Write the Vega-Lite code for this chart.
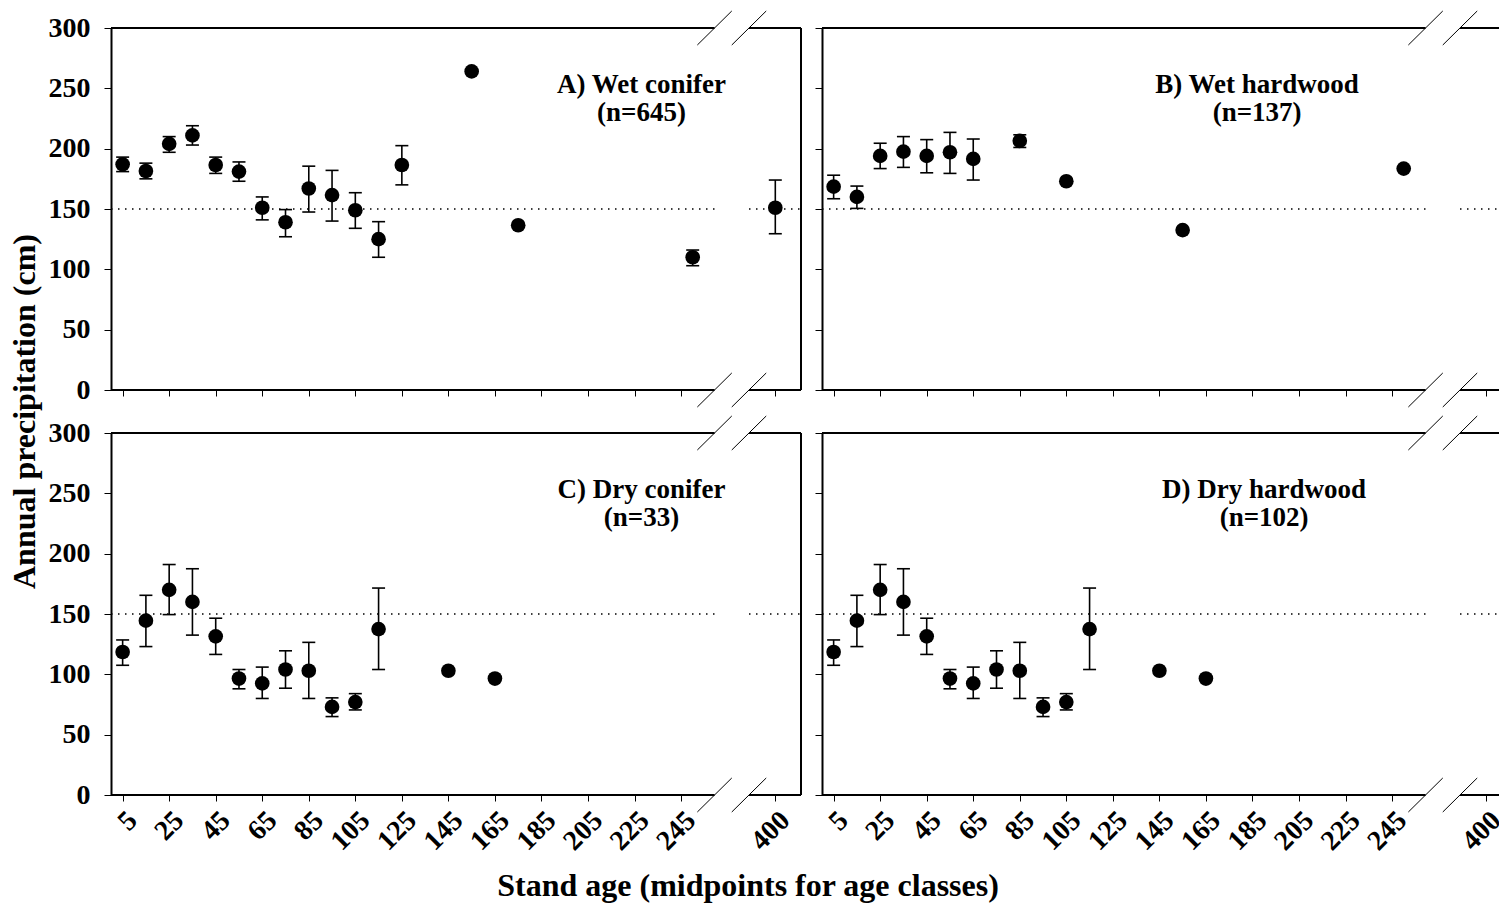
{
  "$schema": "https://vega.github.io/schema/vega-lite/v6.json",
  "padding": {"left": 8, "top": 10, "right": 0, "bottom": 2},
  "config": {"view": {"stroke": null}, "font": "Liberation Serif"},
  "title": {"text": "Stand age (midpoints for age classes)", "orient": "bottom", "anchor": "middle", "font": "Liberation Serif", "fontSize": 32, "fontWeight": "bold", "color": "black", "offset": 16, "dx": -9},
  "datasets": {
    "pts": [
      {"panel": "A", "age": 5, "mean": 187, "lo": 181, "hi": 193},
      {"panel": "A", "age": 15, "mean": 181.5, "lo": 175, "hi": 188},
      {"panel": "A", "age": 25, "mean": 204, "lo": 197, "hi": 210},
      {"panel": "A", "age": 35, "mean": 211, "lo": 203, "hi": 219},
      {"panel": "A", "age": 45, "mean": 186.5, "lo": 179.5, "hi": 193},
      {"panel": "A", "age": 55, "mean": 181, "lo": 173, "hi": 189},
      {"panel": "A", "age": 65, "mean": 151, "lo": 141, "hi": 160},
      {"panel": "A", "age": 75, "mean": 139, "lo": 127, "hi": 149.5},
      {"panel": "A", "age": 85, "mean": 167, "lo": 147.5, "hi": 185.5},
      {"panel": "A", "age": 95, "mean": 161.5, "lo": 140, "hi": 182},
      {"panel": "A", "age": 105, "mean": 149, "lo": 134, "hi": 163.5},
      {"panel": "A", "age": 115, "mean": 125, "lo": 110, "hi": 139.5},
      {"panel": "A", "age": 125, "mean": 186.5, "lo": 170, "hi": 202.5},
      {"panel": "A", "age": 155, "mean": 264, "lo": null, "hi": null},
      {"panel": "A", "age": 175, "mean": 136.5, "lo": null, "hi": null},
      {"panel": "A", "age": 250, "mean": 110, "lo": 103, "hi": 116},
      {"panel": "A", "age": 400, "mean": 151, "lo": 129.5, "hi": 174},
      {"panel": "B", "age": 5, "mean": 168.5, "lo": 158.5, "hi": 178},
      {"panel": "B", "age": 15, "mean": 160, "lo": 150.5, "hi": 169},
      {"panel": "B", "age": 25, "mean": 194, "lo": 183.5, "hi": 204.5},
      {"panel": "B", "age": 35, "mean": 197.5, "lo": 184.5, "hi": 210},
      {"panel": "B", "age": 45, "mean": 194, "lo": 180, "hi": 207.5},
      {"panel": "B", "age": 55, "mean": 197, "lo": 179.5, "hi": 213.5},
      {"panel": "B", "age": 65, "mean": 191.5, "lo": 174, "hi": 208},
      {"panel": "B", "age": 85, "mean": 206.5, "lo": 201, "hi": 211.5},
      {"panel": "B", "age": 105, "mean": 173, "lo": null, "hi": null},
      {"panel": "B", "age": 155, "mean": 132.5, "lo": null, "hi": null},
      {"panel": "B", "age": 250, "mean": 183.5, "lo": null, "hi": null},
      {"panel": "C", "age": 5, "mean": 118.5, "lo": 107.5, "hi": 128.5},
      {"panel": "C", "age": 15, "mean": 144.5, "lo": 123, "hi": 165.5},
      {"panel": "C", "age": 25, "mean": 170, "lo": 149.5, "hi": 191},
      {"panel": "C", "age": 35, "mean": 160, "lo": 132.5, "hi": 187.5},
      {"panel": "C", "age": 45, "mean": 131.5, "lo": 116.5, "hi": 146.5},
      {"panel": "C", "age": 55, "mean": 96.5, "lo": 88, "hi": 104},
      {"panel": "C", "age": 65, "mean": 92.5, "lo": 80, "hi": 106},
      {"panel": "C", "age": 75, "mean": 104, "lo": 88.5, "hi": 119.5},
      {"panel": "C", "age": 85, "mean": 103, "lo": 80, "hi": 126.5},
      {"panel": "C", "age": 95, "mean": 73, "lo": 65, "hi": 80.5},
      {"panel": "C", "age": 105, "mean": 77, "lo": 70.5, "hi": 84},
      {"panel": "C", "age": 115, "mean": 137.5, "lo": 104, "hi": 171.5},
      {"panel": "C", "age": 145, "mean": 103, "lo": null, "hi": null},
      {"panel": "C", "age": 165, "mean": 96.5, "lo": null, "hi": null},
      {"panel": "D", "age": 5, "mean": 118.5, "lo": 107.5, "hi": 128.5},
      {"panel": "D", "age": 15, "mean": 144.5, "lo": 123, "hi": 165.5},
      {"panel": "D", "age": 25, "mean": 170, "lo": 149.5, "hi": 191},
      {"panel": "D", "age": 35, "mean": 160, "lo": 132.5, "hi": 187.5},
      {"panel": "D", "age": 45, "mean": 131.5, "lo": 116.5, "hi": 146.5},
      {"panel": "D", "age": 55, "mean": 96.5, "lo": 88, "hi": 104},
      {"panel": "D", "age": 65, "mean": 92.5, "lo": 80, "hi": 106},
      {"panel": "D", "age": 75, "mean": 104, "lo": 88.5, "hi": 119.5},
      {"panel": "D", "age": 85, "mean": 103, "lo": 80, "hi": 126.5},
      {"panel": "D", "age": 95, "mean": 73, "lo": 65, "hi": 80.5},
      {"panel": "D", "age": 105, "mean": 77, "lo": 70.5, "hi": 84},
      {"panel": "D", "age": 115, "mean": 137.5, "lo": 104, "hi": 171.5},
      {"panel": "D", "age": 145, "mean": 103, "lo": null, "hi": null},
      {"panel": "D", "age": 165, "mean": 96.5, "lo": null, "hi": null}
    ]
  },
  "resolve": {"scale": {"x": "independent", "y": "independent"}},
  "spacing": 12,
  "hconcat": [
    {
      "vconcat": [
        {
          "width": 690, "height": 362,
          "layer": [
            {"data": {"name": "pts"}, "transform": [{"filter": "datum.panel == 'A'"}],
             "mark": {"type": "circle", "size": 215, "color": "black", "opacity": 1},
             "encoding": {
               "x": {"field": "age", "type": "quantitative", "scale": {"type": "linear", "domain": [0, 284, 400, 411.3], "range": [0, 660.8, 664.3, 690], "nice": false, "zero": false},
                     "axis": {"values": [5,15,25,35,45,55,65,75,85,95,105,115,125,135,145,155,165,175,185,195,205,215,225,235,245,255,400], "labels": false, "domain": false, "ticks": true, "tickSize": 6, "tickColor": "black", "tickWidth": 1, "grid": false, "title": null}},
               "y": {"field": "mean", "type": "quantitative", "scale": {"domain": [0, 300], "nice": false, "zero": false},
                     "axis": {"values": [0,50,100,150,200,250,300], "domain": true, "domainColor": "black", "domainWidth": 2, "ticks": true, "tickSize": 7, "tickColor": "black", "tickWidth": 1, "labels": true, "labelFont": "Liberation Serif", "labelFontSize": 28, "labelFontWeight": "bold", "labelColor": "black", "labelPadding": 14, "grid": false,
                              "title": "Annual precipitation (cm)", "titleY": 383, "titleFont": "Liberation Serif", "titleFontSize": 32, "titleFontWeight": "bold", "titleColor": "black", "titlePadding": 7}}
             }},
            {"data": {"name": "pts"}, "transform": [{"filter": "datum.panel == 'A'"}],
             "mark": {"type": "rule", "color": "black", "strokeWidth": 1.6},
             "encoding": {"x": {"field": "age", "type": "quantitative"}, "y": {"field": "lo", "type": "quantitative"}, "y2": {"field": "hi"}}},
            {"data": {"name": "pts"}, "transform": [{"filter": "datum.panel == 'A'"}],
             "mark": {"type": "tick", "orient": "horizontal", "size": 13, "thickness": 1.6, "color": "black", "opacity": 1},
             "encoding": {"x": {"field": "age", "type": "quantitative"}, "y": {"field": "lo", "type": "quantitative"}}},
            {"data": {"name": "pts"}, "transform": [{"filter": "datum.panel == 'A'"}],
             "mark": {"type": "tick", "orient": "horizontal", "size": 13, "thickness": 1.6, "color": "black", "opacity": 1},
             "encoding": {"x": {"field": "age", "type": "quantitative"}, "y": {"field": "hi", "type": "quantitative"}}},
            {"data": {"values": [{}]}, "mark": {"type": "rule", "color": "black", "strokeWidth": 1.5, "strokeDash": [1.5, 5.5]},
             "encoding": {"x": {"datum": 0, "type": "quantitative"}, "x2": {"datum": 259.4}, "y": {"datum": 150, "type": "quantitative"}}},
            {"data": {"values": [{}]}, "mark": {"type": "rule", "color": "black", "strokeWidth": 1.5, "strokeDash": [1.5, 5.5]},
             "encoding": {"x": {"datum": 274.2, "type": "quantitative"}, "x2": {"datum": 411.3}, "y": {"datum": 150, "type": "quantitative"}}},
            {"data": {"values": [{}]}, "mark": {"type": "rule", "color": "black", "strokeWidth": 2},
             "encoding": {"x": {"datum": 0, "type": "quantitative"}, "x2": {"datum": 259.4}, "y": {"datum": 0, "type": "quantitative"}}},
            {"data": {"values": [{}]}, "mark": {"type": "rule", "color": "black", "strokeWidth": 2},
             "encoding": {"x": {"datum": 274.2, "type": "quantitative"}, "x2": {"datum": 411.3}, "y": {"datum": 0, "type": "quantitative"}}},
            {"data": {"values": [{}]}, "mark": {"type": "rule", "color": "black", "strokeWidth": 2},
             "encoding": {"x": {"datum": 0, "type": "quantitative"}, "x2": {"datum": 259.4}, "y": {"datum": 300, "type": "quantitative"}}},
            {"data": {"values": [{}]}, "mark": {"type": "rule", "color": "black", "strokeWidth": 2},
             "encoding": {"x": {"datum": 274.2, "type": "quantitative"}, "x2": {"datum": 411.3}, "y": {"datum": 300, "type": "quantitative"}}},
            {"data": {"values": [{}]}, "mark": {"type": "rule", "color": "black", "strokeWidth": 2},
             "encoding": {"x": {"datum": 411.3, "type": "quantitative"}, "y": {"datum": 0, "type": "quantitative"}, "y2": {"datum": 300}}},
            {"data": {"values": [{}]}, "mark": {"type": "rule", "color": "black", "strokeWidth": 1},
             "encoding": {"x": {"datum": 252.0, "type": "quantitative"}, "x2": {"datum": 266.8}, "y": {"datum": -14.1, "type": "quantitative"}, "y2": {"datum": 14.1}}},
            {"data": {"values": [{}]}, "mark": {"type": "rule", "color": "black", "strokeWidth": 1},
             "encoding": {"x": {"datum": 266.8, "type": "quantitative"}, "x2": {"datum": 281.6}, "y": {"datum": -14.1, "type": "quantitative"}, "y2": {"datum": 14.1}}},
            {"data": {"values": [{}]}, "mark": {"type": "rule", "color": "black", "strokeWidth": 1},
             "encoding": {"x": {"datum": 252.0, "type": "quantitative"}, "x2": {"datum": 266.8}, "y": {"datum": 285.9, "type": "quantitative"}, "y2": {"datum": 314.1}}},
            {"data": {"values": [{}]}, "mark": {"type": "rule", "color": "black", "strokeWidth": 1},
             "encoding": {"x": {"datum": 266.8, "type": "quantitative"}, "x2": {"datum": 281.6}, "y": {"datum": 285.9, "type": "quantitative"}, "y2": {"datum": 314.1}}},
            {"data": {"values": [{}]}, "mark": {"type": "text", "text": ["A) Wet conifer", "(n=645)"], "font": "Liberation Serif", "fontSize": 27, "fontWeight": "bold", "color": "black", "align": "center", "baseline": "alphabetic", "lineHeight": 28},
             "encoding": {"x": {"datum": 228, "type": "quantitative"}, "y": {"datum": 246.5, "type": "quantitative"}}}
          ]
        },
        {
          "width": 690, "height": 362,
          "layer": [
            {"data": {"name": "pts"}, "transform": [{"filter": "datum.panel == 'C'"}],
             "mark": {"type": "circle", "size": 215, "color": "black", "opacity": 1},
             "encoding": {
               "x": {"field": "age", "type": "quantitative", "scale": {"type": "linear", "domain": [0, 284, 400, 411.3], "range": [0, 660.8, 664.3, 690], "nice": false, "zero": false},
                     "axis": {"values": [5,15,25,35,45,55,65,75,85,95,105,115,125,135,145,155,165,175,185,195,205,215,225,235,245,255,400], "labels": true, "labelExpr": "(datum.value == 400 || (datum.value <= 245 && (datum.value - 5) % 20 == 0)) ? datum.label : ''", "labelAngle": -45, "labelFont": "Liberation Serif", "labelFontSize": 28, "labelFontWeight": "bold", "labelColor": "black", "labelPadding": 5, "labelOverlap": false, "labelFlush": false, "labelBound": false, "domain": false, "ticks": true, "tickSize": 6, "tickColor": "black", "tickWidth": 1, "grid": false, "title": null}},
               "y": {"field": "mean", "type": "quantitative", "scale": {"domain": [0, 300], "nice": false, "zero": false},
                     "axis": {"values": [0,50,100,150,200,250,300], "domain": true, "domainColor": "black", "domainWidth": 2, "ticks": true, "tickSize": 7, "tickColor": "black", "tickWidth": 1, "labels": true, "labelFont": "Liberation Serif", "labelFontSize": 28, "labelFontWeight": "bold", "labelColor": "black", "labelPadding": 14, "grid": false, "title": null}}
             }},
            {"data": {"name": "pts"}, "transform": [{"filter": "datum.panel == 'C'"}],
             "mark": {"type": "rule", "color": "black", "strokeWidth": 1.6},
             "encoding": {"x": {"field": "age", "type": "quantitative"}, "y": {"field": "lo", "type": "quantitative"}, "y2": {"field": "hi"}}},
            {"data": {"name": "pts"}, "transform": [{"filter": "datum.panel == 'C'"}],
             "mark": {"type": "tick", "orient": "horizontal", "size": 13, "thickness": 1.6, "color": "black", "opacity": 1},
             "encoding": {"x": {"field": "age", "type": "quantitative"}, "y": {"field": "lo", "type": "quantitative"}}},
            {"data": {"name": "pts"}, "transform": [{"filter": "datum.panel == 'C'"}],
             "mark": {"type": "tick", "orient": "horizontal", "size": 13, "thickness": 1.6, "color": "black", "opacity": 1},
             "encoding": {"x": {"field": "age", "type": "quantitative"}, "y": {"field": "hi", "type": "quantitative"}}},
            {"data": {"values": [{}]}, "mark": {"type": "rule", "color": "black", "strokeWidth": 1.5, "strokeDash": [1.5, 5.5]},
             "encoding": {"x": {"datum": 0, "type": "quantitative"}, "x2": {"datum": 259.4}, "y": {"datum": 150, "type": "quantitative"}}},
            {"data": {"values": [{}]}, "mark": {"type": "rule", "color": "black", "strokeWidth": 1.5, "strokeDash": [1.5, 5.5]},
             "encoding": {"x": {"datum": 274.2, "type": "quantitative"}, "x2": {"datum": 411.3}, "y": {"datum": 150, "type": "quantitative"}}},
            {"data": {"values": [{}]}, "mark": {"type": "rule", "color": "black", "strokeWidth": 2},
             "encoding": {"x": {"datum": 0, "type": "quantitative"}, "x2": {"datum": 259.4}, "y": {"datum": 0, "type": "quantitative"}}},
            {"data": {"values": [{}]}, "mark": {"type": "rule", "color": "black", "strokeWidth": 2},
             "encoding": {"x": {"datum": 274.2, "type": "quantitative"}, "x2": {"datum": 411.3}, "y": {"datum": 0, "type": "quantitative"}}},
            {"data": {"values": [{}]}, "mark": {"type": "rule", "color": "black", "strokeWidth": 2},
             "encoding": {"x": {"datum": 0, "type": "quantitative"}, "x2": {"datum": 259.4}, "y": {"datum": 300, "type": "quantitative"}}},
            {"data": {"values": [{}]}, "mark": {"type": "rule", "color": "black", "strokeWidth": 2},
             "encoding": {"x": {"datum": 274.2, "type": "quantitative"}, "x2": {"datum": 411.3}, "y": {"datum": 300, "type": "quantitative"}}},
            {"data": {"values": [{}]}, "mark": {"type": "rule", "color": "black", "strokeWidth": 2},
             "encoding": {"x": {"datum": 411.3, "type": "quantitative"}, "y": {"datum": 0, "type": "quantitative"}, "y2": {"datum": 300}}},
            {"data": {"values": [{}]}, "mark": {"type": "rule", "color": "black", "strokeWidth": 1},
             "encoding": {"x": {"datum": 252.0, "type": "quantitative"}, "x2": {"datum": 266.8}, "y": {"datum": -14.1, "type": "quantitative"}, "y2": {"datum": 14.1}}},
            {"data": {"values": [{}]}, "mark": {"type": "rule", "color": "black", "strokeWidth": 1},
             "encoding": {"x": {"datum": 266.8, "type": "quantitative"}, "x2": {"datum": 281.6}, "y": {"datum": -14.1, "type": "quantitative"}, "y2": {"datum": 14.1}}},
            {"data": {"values": [{}]}, "mark": {"type": "rule", "color": "black", "strokeWidth": 1},
             "encoding": {"x": {"datum": 252.0, "type": "quantitative"}, "x2": {"datum": 266.8}, "y": {"datum": 285.9, "type": "quantitative"}, "y2": {"datum": 314.1}}},
            {"data": {"values": [{}]}, "mark": {"type": "rule", "color": "black", "strokeWidth": 1},
             "encoding": {"x": {"datum": 266.8, "type": "quantitative"}, "x2": {"datum": 281.6}, "y": {"datum": 285.9, "type": "quantitative"}, "y2": {"datum": 314.1}}},
            {"data": {"values": [{}]}, "mark": {"type": "text", "text": ["C) Dry conifer", "(n=33)"], "font": "Liberation Serif", "fontSize": 27, "fontWeight": "bold", "color": "black", "align": "center", "baseline": "alphabetic", "lineHeight": 28},
             "encoding": {"x": {"datum": 228, "type": "quantitative"}, "y": {"datum": 246.5, "type": "quantitative"}}}
          ]
        }
      ],
      "spacing": 43,
      "bounds": "flush",
      "resolve": {"scale": {"x": "independent", "y": "independent"}}
    },
    {
      "vconcat": [
        {
          "width": 677, "height": 362,
          "layer": [
            {"data": {"name": "pts"}, "transform": [{"filter": "datum.panel == 'B'"}],
             "mark": {"type": "circle", "size": 215, "color": "black", "opacity": 1},
             "encoding": {
               "x": {"field": "age", "type": "quantitative", "scale": {"type": "linear", "domain": [0, 284, 400, 405.5], "range": [0, 660.8, 664.3, 677], "nice": false, "zero": false},
                     "axis": {"values": [5,15,25,35,45,55,65,75,85,95,105,115,125,135,145,155,165,175,185,195,205,215,225,235,245,255,400], "labels": false, "domain": false, "ticks": true, "tickSize": 6, "tickColor": "black", "tickWidth": 1, "grid": false, "title": null}},
               "y": {"field": "mean", "type": "quantitative", "scale": {"domain": [0, 300], "nice": false, "zero": false},
                     "axis": {"values": [0,50,100,150,200,250,300], "domain": true, "domainColor": "black", "domainWidth": 2, "ticks": true, "tickSize": 7, "tickColor": "black", "tickWidth": 1, "labels": false, "grid": false, "title": null}}
             }},
            {"data": {"name": "pts"}, "transform": [{"filter": "datum.panel == 'B'"}],
             "mark": {"type": "rule", "color": "black", "strokeWidth": 1.6},
             "encoding": {"x": {"field": "age", "type": "quantitative"}, "y": {"field": "lo", "type": "quantitative"}, "y2": {"field": "hi"}}},
            {"data": {"name": "pts"}, "transform": [{"filter": "datum.panel == 'B'"}],
             "mark": {"type": "tick", "orient": "horizontal", "size": 13, "thickness": 1.6, "color": "black", "opacity": 1},
             "encoding": {"x": {"field": "age", "type": "quantitative"}, "y": {"field": "lo", "type": "quantitative"}}},
            {"data": {"name": "pts"}, "transform": [{"filter": "datum.panel == 'B'"}],
             "mark": {"type": "tick", "orient": "horizontal", "size": 13, "thickness": 1.6, "color": "black", "opacity": 1},
             "encoding": {"x": {"field": "age", "type": "quantitative"}, "y": {"field": "hi", "type": "quantitative"}}},
            {"data": {"values": [{}]}, "mark": {"type": "rule", "color": "black", "strokeWidth": 1.5, "strokeDash": [1.5, 5.5]},
             "encoding": {"x": {"datum": 0, "type": "quantitative"}, "x2": {"datum": 259.4}, "y": {"datum": 150, "type": "quantitative"}}},
            {"data": {"values": [{}]}, "mark": {"type": "rule", "color": "black", "strokeWidth": 1.5, "strokeDash": [1.5, 5.5]},
             "encoding": {"x": {"datum": 274.2, "type": "quantitative"}, "x2": {"datum": 405.5}, "y": {"datum": 150, "type": "quantitative"}}},
            {"data": {"values": [{}]}, "mark": {"type": "rule", "color": "black", "strokeWidth": 2},
             "encoding": {"x": {"datum": 0, "type": "quantitative"}, "x2": {"datum": 259.4}, "y": {"datum": 0, "type": "quantitative"}}},
            {"data": {"values": [{}]}, "mark": {"type": "rule", "color": "black", "strokeWidth": 2},
             "encoding": {"x": {"datum": 274.2, "type": "quantitative"}, "x2": {"datum": 405.5}, "y": {"datum": 0, "type": "quantitative"}}},
            {"data": {"values": [{}]}, "mark": {"type": "rule", "color": "black", "strokeWidth": 2},
             "encoding": {"x": {"datum": 0, "type": "quantitative"}, "x2": {"datum": 259.4}, "y": {"datum": 300, "type": "quantitative"}}},
            {"data": {"values": [{}]}, "mark": {"type": "rule", "color": "black", "strokeWidth": 2},
             "encoding": {"x": {"datum": 274.2, "type": "quantitative"}, "x2": {"datum": 405.5}, "y": {"datum": 300, "type": "quantitative"}}},
            {"data": {"values": [{}]}, "mark": {"type": "rule", "color": "black", "strokeWidth": 1},
             "encoding": {"x": {"datum": 252.0, "type": "quantitative"}, "x2": {"datum": 266.8}, "y": {"datum": -14.1, "type": "quantitative"}, "y2": {"datum": 14.1}}},
            {"data": {"values": [{}]}, "mark": {"type": "rule", "color": "black", "strokeWidth": 1},
             "encoding": {"x": {"datum": 266.8, "type": "quantitative"}, "x2": {"datum": 281.6}, "y": {"datum": -14.1, "type": "quantitative"}, "y2": {"datum": 14.1}}},
            {"data": {"values": [{}]}, "mark": {"type": "rule", "color": "black", "strokeWidth": 1},
             "encoding": {"x": {"datum": 252.0, "type": "quantitative"}, "x2": {"datum": 266.8}, "y": {"datum": 285.9, "type": "quantitative"}, "y2": {"datum": 314.1}}},
            {"data": {"values": [{}]}, "mark": {"type": "rule", "color": "black", "strokeWidth": 1},
             "encoding": {"x": {"datum": 266.8, "type": "quantitative"}, "x2": {"datum": 281.6}, "y": {"datum": 285.9, "type": "quantitative"}, "y2": {"datum": 314.1}}},
            {"data": {"values": [{}]}, "mark": {"type": "text", "text": ["B) Wet hardwood", "(n=137)"], "font": "Liberation Serif", "fontSize": 27, "fontWeight": "bold", "color": "black", "align": "center", "baseline": "alphabetic", "lineHeight": 28},
             "encoding": {"x": {"datum": 187, "type": "quantitative"}, "y": {"datum": 246.5, "type": "quantitative"}}}
          ]
        },
        {
          "width": 677, "height": 362,
          "layer": [
            {"data": {"name": "pts"}, "transform": [{"filter": "datum.panel == 'D'"}],
             "mark": {"type": "circle", "size": 215, "color": "black", "opacity": 1},
             "encoding": {
               "x": {"field": "age", "type": "quantitative", "scale": {"type": "linear", "domain": [0, 284, 400, 405.5], "range": [0, 660.8, 664.3, 677], "nice": false, "zero": false},
                     "axis": {"values": [5,15,25,35,45,55,65,75,85,95,105,115,125,135,145,155,165,175,185,195,205,215,225,235,245,255,400], "labels": true, "labelExpr": "(datum.value == 400 || (datum.value <= 245 && (datum.value - 5) % 20 == 0)) ? datum.label : ''", "labelAngle": -45, "labelFont": "Liberation Serif", "labelFontSize": 28, "labelFontWeight": "bold", "labelColor": "black", "labelPadding": 5, "labelOverlap": false, "labelFlush": false, "labelBound": false, "domain": false, "ticks": true, "tickSize": 6, "tickColor": "black", "tickWidth": 1, "grid": false, "title": null}},
               "y": {"field": "mean", "type": "quantitative", "scale": {"domain": [0, 300], "nice": false, "zero": false},
                     "axis": {"values": [0,50,100,150,200,250,300], "domain": true, "domainColor": "black", "domainWidth": 2, "ticks": true, "tickSize": 7, "tickColor": "black", "tickWidth": 1, "labels": false, "grid": false, "title": null}}
             }},
            {"data": {"name": "pts"}, "transform": [{"filter": "datum.panel == 'D'"}],
             "mark": {"type": "rule", "color": "black", "strokeWidth": 1.6},
             "encoding": {"x": {"field": "age", "type": "quantitative"}, "y": {"field": "lo", "type": "quantitative"}, "y2": {"field": "hi"}}},
            {"data": {"name": "pts"}, "transform": [{"filter": "datum.panel == 'D'"}],
             "mark": {"type": "tick", "orient": "horizontal", "size": 13, "thickness": 1.6, "color": "black", "opacity": 1},
             "encoding": {"x": {"field": "age", "type": "quantitative"}, "y": {"field": "lo", "type": "quantitative"}}},
            {"data": {"name": "pts"}, "transform": [{"filter": "datum.panel == 'D'"}],
             "mark": {"type": "tick", "orient": "horizontal", "size": 13, "thickness": 1.6, "color": "black", "opacity": 1},
             "encoding": {"x": {"field": "age", "type": "quantitative"}, "y": {"field": "hi", "type": "quantitative"}}},
            {"data": {"values": [{}]}, "mark": {"type": "rule", "color": "black", "strokeWidth": 1.5, "strokeDash": [1.5, 5.5]},
             "encoding": {"x": {"datum": 0, "type": "quantitative"}, "x2": {"datum": 259.4}, "y": {"datum": 150, "type": "quantitative"}}},
            {"data": {"values": [{}]}, "mark": {"type": "rule", "color": "black", "strokeWidth": 1.5, "strokeDash": [1.5, 5.5]},
             "encoding": {"x": {"datum": 274.2, "type": "quantitative"}, "x2": {"datum": 405.5}, "y": {"datum": 150, "type": "quantitative"}}},
            {"data": {"values": [{}]}, "mark": {"type": "rule", "color": "black", "strokeWidth": 2},
             "encoding": {"x": {"datum": 0, "type": "quantitative"}, "x2": {"datum": 259.4}, "y": {"datum": 0, "type": "quantitative"}}},
            {"data": {"values": [{}]}, "mark": {"type": "rule", "color": "black", "strokeWidth": 2},
             "encoding": {"x": {"datum": 274.2, "type": "quantitative"}, "x2": {"datum": 405.5}, "y": {"datum": 0, "type": "quantitative"}}},
            {"data": {"values": [{}]}, "mark": {"type": "rule", "color": "black", "strokeWidth": 2},
             "encoding": {"x": {"datum": 0, "type": "quantitative"}, "x2": {"datum": 259.4}, "y": {"datum": 300, "type": "quantitative"}}},
            {"data": {"values": [{}]}, "mark": {"type": "rule", "color": "black", "strokeWidth": 2},
             "encoding": {"x": {"datum": 274.2, "type": "quantitative"}, "x2": {"datum": 405.5}, "y": {"datum": 300, "type": "quantitative"}}},
            {"data": {"values": [{}]}, "mark": {"type": "rule", "color": "black", "strokeWidth": 1},
             "encoding": {"x": {"datum": 252.0, "type": "quantitative"}, "x2": {"datum": 266.8}, "y": {"datum": -14.1, "type": "quantitative"}, "y2": {"datum": 14.1}}},
            {"data": {"values": [{}]}, "mark": {"type": "rule", "color": "black", "strokeWidth": 1},
             "encoding": {"x": {"datum": 266.8, "type": "quantitative"}, "x2": {"datum": 281.6}, "y": {"datum": -14.1, "type": "quantitative"}, "y2": {"datum": 14.1}}},
            {"data": {"values": [{}]}, "mark": {"type": "rule", "color": "black", "strokeWidth": 1},
             "encoding": {"x": {"datum": 252.0, "type": "quantitative"}, "x2": {"datum": 266.8}, "y": {"datum": 285.9, "type": "quantitative"}, "y2": {"datum": 314.1}}},
            {"data": {"values": [{}]}, "mark": {"type": "rule", "color": "black", "strokeWidth": 1},
             "encoding": {"x": {"datum": 266.8, "type": "quantitative"}, "x2": {"datum": 281.6}, "y": {"datum": 285.9, "type": "quantitative"}, "y2": {"datum": 314.1}}},
            {"data": {"values": [{}]}, "mark": {"type": "text", "text": ["D) Dry hardwood", "(n=102)"], "font": "Liberation Serif", "fontSize": 27, "fontWeight": "bold", "color": "black", "align": "center", "baseline": "alphabetic", "lineHeight": 28},
             "encoding": {"x": {"datum": 190, "type": "quantitative"}, "y": {"datum": 246.5, "type": "quantitative"}}}
          ]
        }
      ],
      "spacing": 43,
      "bounds": "flush",
      "resolve": {"scale": {"x": "independent", "y": "independent"}}
    }
  ]
}
